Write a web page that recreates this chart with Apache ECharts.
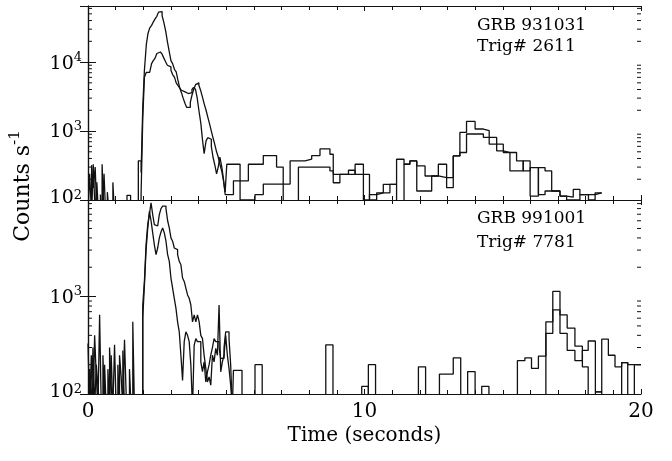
<!DOCTYPE html>
<html>
<head>
<meta charset="utf-8">
<script src="https://cdn.jsdelivr.net/npm/echarts@6/dist/echarts.min.js"></script>
<style>
html, body { margin: 0; padding: 0; background: #fff; }
#main { width: 672px; height: 461px; }
</style>
</head>
<body>
<div id="main"></div>
<script>
// ---- data (seconds, counts/s) ----
var topNoiseTimesA = [0.00, 0.06, 0.13, 0.19, 0.26, 0.32, 0.38, 0.51, 0.58, 0.70, 0.77, 0.90, 0.96, 1.41, 1.54, 1.82, 1.92];
var topNoiseA = [60, 240, 60, 330, 60, 180, 60, 330, 60, 130, 60, 180, 60, 117, 60, 370, 250];
var topNoiseTimesB = [0.00, 0.13, 0.19, 0.26, 0.32, 0.45, 0.51, 0.58, 0.64, 1.92];
var topNoiseB = [60, 320, 150, 300, 60, 120, 60, 240, 60, 120];

var topBurstTimes = [1.98, 2.04, 2.11, 2.17, 2.23, 2.30, 2.36, 2.42, 2.49, 2.55, 2.62, 2.68, 2.74, 2.81, 2.87, 2.94,
    3.00, 3.06, 3.13, 3.19, 3.25, 3.32, 3.38, 3.44, 3.51, 3.57, 3.63, 3.70, 3.76, 3.82, 3.89, 3.95,
    4.01, 4.08, 4.14, 4.20, 4.27, 4.33, 4.39, 4.46, 4.52, 4.58, 4.65, 4.71, 4.77, 4.84, 4.90, 4.96];
var topBurstA = [2200, 7600, 18000, 26000, 31000, 34000, 38000, 42000, 46000, 53000, 54000, 47000, 38000, 28000, 20000, 14000,
    10500, 9500, 7800, 7200, 5500, 4200, 3600, 3000, 2500, 2200, 2200, 2600, 3300, 4000, 4700, 5000,
    4600, 3800, 3100, 2500, 2000, 1600, 1300, 1000, 800, 650, 500, 420, 330, 260, 190, 130];
var topBurstB = [1500, 6000, 7100, 7100, 7500, 9500, 10500, 11300, 13300, 14000, 14000, 13000, 11500, 10000, 9000, 8500,
    7600, 6600, 6000, 5000, 4600, 4200, 3900, 3700, 3600, 3500, 3500, 3600, 4000, 4300, 4000, 3000,
    2000, 1300, 750, 470, 720, 800, 760, 600, 420, 330, 240, 300, 420, 300, 200, 120];

var topTailTimes = [5.02, 5.26, 5.50, 5.80, 6.04, 6.34, 6.58, 6.82, 7.06, 7.31, 7.61, 7.85, 8.09, 8.39, 8.75, 8.87,
    9.11, 9.42, 9.66, 9.96, 10.18, 10.44, 10.68, 10.92, 11.16, 11.43, 11.64, 11.89, 12.19, 12.43, 12.67, 12.97,
    13.21, 13.45, 13.69, 14.00, 14.30, 14.51, 14.78, 15.02, 15.26, 15.50, 15.74, 15.99, 16.29, 16.53, 16.77,
    17.07, 17.31, 17.55, 17.79, 18.10, 18.34];
var topTailEnd = 18.58;
var topTailA = [330, 330, 190, 330, 330, 440, 440, 300, 170, 370, 370, 390, 440, 550, 461, 236,
    236, 270, 236, 236, 100, 127, 127, 169, 390, 330, 369, 312, 223, 223, 330, 211,
    436, 955, 1380, 1070, 1010, 807, 516, 488, 264, 264, 369, 114, 295, 264, 135,
    114, 110, 143, 120, 120, 127];
var topTailB = [120, 190, 100, 100, 120, 170, 170, 170, 90, 90, 300, 300, 300, 300, 264, 178,
    236, 236, 330, 100, 120, 127, 169, 169, 90, 330, 369, 135, 135, 223, 211, 151,
    436, 488, 905, 905, 807, 645, 645, 488, 488, 369, 264, 295, 120, 135, 135,
    114, 100, 100, 120, 100, 127];

var botNoiseTimesP = [0.00, 0.06, 0.12, 0.18, 0.24, 0.30, 0.36, 0.42, 0.48, 0.60, 0.66, 0.78, 0.84, 0.90, 0.96, 1.02,
    1.14, 1.20, 1.26, 1.32, 1.38, 1.44, 1.62, 1.68];
var botNoiseP = [330, 70, 250, 70, 400, 150, 70, 650, 70, 200, 70, 300, 120, 70, 320, 70,
    250, 150, 70, 360, 100, 70, 550, 70];
var botNoiseTimesQ = [0.00, 0.06, 0.12, 0.18, 0.24, 0.30, 0.36, 0.42, 0.54, 0.60, 0.72, 0.78, 0.84, 0.90, 1.08, 1.14,
    1.26, 1.32, 1.50, 1.56];
var botNoiseQ = [70, 180, 70, 300, 70, 200, 120, 70, 250, 70, 180, 70, 250, 70, 200, 70, 280, 70, 180, 70];

var botBurstTimes = [1.98, 2.04, 2.10, 2.16, 2.22, 2.28, 2.34, 2.40, 2.46, 2.52, 2.58, 2.64, 2.70, 2.76, 2.82, 2.88, 2.94,
    3.00, 3.06, 3.12, 3.18, 3.24, 3.30, 3.36, 3.42, 3.48, 3.54, 3.60, 3.66, 3.72, 3.78, 3.84, 3.90, 3.96,
    4.02, 4.08, 4.14, 4.20, 4.26, 4.32, 4.38, 4.44, 4.50, 4.56, 4.62, 4.68, 4.74, 4.80, 4.86, 4.92, 4.98,
    5.04, 5.10, 5.16];
var botBurstP = [820, 1430, 3400, 5480, 6950, 9180, 6950, 5480, 5300, 5480, 6950, 8000, 8470, 8470, 8000, 6000, 5070,
    4000, 3700, 3150, 3030, 2690, 2300, 2120, 1550, 1430, 1220, 1040, 960, 820, 550, 650, 550, 650,
    550, 400, 370, 250, 183, 133, 150, 123, 250, 214, 294, 250, 820, 169, 214, 250, 400,
    250, 183, 123];
var botBurstQ = [600, 1300, 3000, 5000, 7500, 6000, 4500, 3400, 2700, 3150, 4000, 4600, 5070, 4500, 3700, 2700, 2300,
    1550, 1220, 960, 760, 550, 435, 250, 138, 345, 435, 400, 345, 198, 70, 318, 370, 345,
    345, 214, 170, 214, 133, 169, 200, 250, 300, 370, 345, 345, 300, 232, 232, 300, 435,
    435, 370, 200];

var botTailTimesP = [5.22, 5.26, 5.57, 6.04, 6.30, 8.60, 8.86, 10.14, 10.40, 11.95, 12.21, 12.71, 13.21, 13.48, 13.73, 14.00,
    14.24, 14.50, 15.53, 15.80, 16.04, 16.29, 16.56, 16.81, 17.07, 17.33, 17.61, 17.88, 18.09, 18.35, 18.58, 18.82,
    19.06, 19.30, 19.52, 19.76];
var botTailP = [70, 175, 70, 200, 70, 320, 70, 200, 70, 190, 70, 160, 235, 70, 170, 70,
    120, 70, 220, 235, 183, 245, 550, 1130, 650, 475, 310, 190, 70, 105, 365, 250,
    190, 210, 200, 200];
var botTailTimesQ = [5.22, 9.90, 10.14, 16.56, 16.81, 17.07, 17.33, 17.61, 17.88, 18.09, 18.35, 18.58, 19.30, 19.52, 19.76];
var botTailQ = [70, 120, 70, 420, 730, 420, 280, 220, 280, 350, 105, 70, 210, 70, 200];
var botTailEnd = 20.0;

var minorTop = [200, 300, 400, 500, 600, 700, 800, 900, 2000, 3000, 4000, 5000, 6000, 7000, 8000, 9000,
    20000, 30000, 40000, 50000, 60000];
var minorBottom = [200, 300, 400, 500, 600, 700, 800, 900, 2000, 3000, 4000, 5000, 6000, 7000, 8000, 9000];

// ---- helpers ----
function steps(times, values, end) {
    var d = [];
    for (var i = 0; i < values.length; i++) {
        d.push([times[i], values[i]]);
    }
    d.push([end, values[values.length - 1]]);
    return d;
}

function powLabel(v) {
    var e = Math.log10(v);
    var r = Math.round(e);
    if (Math.abs(e - r) > 1e-6) return '';
    // the lowest label sits a little above the frame, as in the original
    if (r === 2) return '{b2|10}{s2|' + r + '}';
    return '{b|10}{s|' + r + '}';
}

var FONT = 'DejaVu Serif';
var INK = '#111';

function xAxisFor(grid, pos, labels) {
    return {
        type: 'value', gridIndex: grid, position: pos, min: 0, max: 20, interval: 10,
        axisLine: { lineStyle: { color: INK, width: 1.2 } },
        axisTick: { inside: true, length: 5, lineStyle: { color: INK } },
        minorTick: { show: true, splitNumber: 10, length: 4, lineStyle: { color: INK } },
        splitLine: { show: false },
        axisLabel: { show: labels, color: '#000', fontFamily: FONT, fontSize: 20, margin: 8 },
        name: labels ? 'Time (seconds)' : '',
        nameLocation: 'middle', nameGap: 32,
        nameTextStyle: { color: '#000', fontFamily: FONT, fontSize: 20 }
    };
}

function yAxisFor(grid, pos, labels, max) {
    return {
        type: 'log', logBase: 10, gridIndex: grid, position: pos, min: 100, max: max,
        axisLine: { lineStyle: { color: INK, width: 1.2 } },
        axisTick: { inside: true, length: 8, lineStyle: { color: INK } },
        splitLine: { show: false },
        axisLabel: {
            show: labels, margin: 6, formatter: powLabel,
            rich: {
                b: { fontFamily: FONT, fontSize: 19, color: '#000', lineHeight: 22, verticalAlign: 'bottom' },
                s: { fontFamily: FONT, fontSize: 13, color: '#000', lineHeight: 12, verticalAlign: 'top' },
                b2: { fontFamily: FONT, fontSize: 19, color: '#000', lineHeight: 22, verticalAlign: 'top', padding: [0, 0, 18, 0] },
                s2: { fontFamily: FONT, fontSize: 13, color: '#000', lineHeight: 12, verticalAlign: 'top' }
            }
        }
    };
}

function minorTicks(values, xIdx, yIdx) {
    return {
        type: 'custom', xAxisIndex: xIdx, yAxisIndex: yIdx, silent: true,
        data: values.map(function (v) { return [0, v]; }),
        renderItem: function (params, api) {
            var p = api.coord([0, api.value(1)]);
            var cs = params.coordSys;
            var st = { stroke: INK, lineWidth: 1 };
            return {
                type: 'group',
                children: [
                    { type: 'line', shape: { x1: cs.x, y1: p[1], x2: cs.x + 4, y2: p[1] }, style: st },
                    { type: 'line', shape: { x1: cs.x + cs.width - 4, y1: p[1], x2: cs.x + cs.width, y2: p[1] }, style: st }
                ]
            };
        }
    };
}

function histo(data, xIdx, yIdx) {
    return {
        type: 'line', step: 'end', xAxisIndex: xIdx, yAxisIndex: yIdx,
        showSymbol: false, symbol: 'none', clip: true,
        lineStyle: { color: INK, width: 1.3 },
        data: data
    };
}

var chartDom = document.getElementById('main');
var myChart = echarts.init(chartDom);
var option;

option = {
    animation: false,
    backgroundColor: '#fff',
    grid: [
        { left: 88, right: 31, top: 6, height: 194 },
        { left: 88, right: 31, top: 200, height: 194 }
    ],
    xAxis: [
        xAxisFor(0, 'bottom', false),
        xAxisFor(0, 'top', false),
        xAxisFor(1, 'bottom', true),
        xAxisFor(1, 'top', false)
    ],
    yAxis: [
        yAxisFor(0, 'left', true, 65000),
        yAxisFor(0, 'right', false, 65000),
        yAxisFor(1, 'left', true, 9800),
        yAxisFor(1, 'right', false, 9800)
    ],
    graphic: [
        {
            type: 'text', x: 21, y: 186, rotation: Math.PI / 2,
            style: {
                text: '{a|Counts s}{s|-1}',
                align: 'center', verticalAlign: 'middle',
                rich: {
                    a: { fontFamily: FONT, fontSize: 22, fill: '#000', lineHeight: 26, verticalAlign: 'bottom' },
                    s: { fontFamily: FONT, fontSize: 15, fill: '#000', lineHeight: 14, verticalAlign: 'top' }
                }
            }
        },
        { type: 'text', x: 477, y: 17, style: { text: 'GRB 931031', fontFamily: FONT, fontSize: 17, fill: '#000' } },
        { type: 'text', x: 477, y: 38, style: { text: 'Trig# 2611', fontFamily: FONT, fontSize: 17, fill: '#000' } },
        { type: 'text', x: 477, y: 210, style: { text: 'GRB 991001', fontFamily: FONT, fontSize: 17, fill: '#000' } },
        { type: 'text', x: 477, y: 234, style: { text: 'Trig# 7781', fontFamily: FONT, fontSize: 17, fill: '#000' } }
    ],
    series: [
        histo(steps(topNoiseTimesA.concat(topBurstTimes, topTailTimes), topNoiseA.concat(topBurstA, topTailA), topTailEnd), 0, 0),
        histo(steps(topNoiseTimesB.concat(topBurstTimes, topTailTimes), topNoiseB.concat(topBurstB, topTailB), topTailEnd), 0, 0),
        histo(steps(botNoiseTimesP.concat(botBurstTimes, botTailTimesP), botNoiseP.concat(botBurstP, botTailP), botTailEnd), 2, 2),
        histo(steps(botNoiseTimesQ.concat(botBurstTimes, botTailTimesQ), botNoiseQ.concat(botBurstQ, botTailQ), botTailEnd), 2, 2),
        minorTicks(minorTop, 0, 0),
        minorTicks(minorBottom, 2, 2)
    ]
};

option && myChart.setOption(option);
</script>
</body>
</html>
